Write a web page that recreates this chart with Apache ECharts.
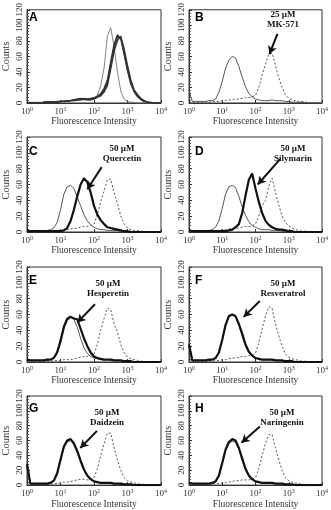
<!DOCTYPE html>
<html><head><meta charset="utf-8">
<script src="https://cdn.jsdelivr.net/npm/echarts@6/dist/echarts.min.js"></script>
<style>html,body{margin:0;padding:0;background:#fff}#c{width:331px;height:510px}</style>
</head><body><div id="c"></div>
<script>
// Fluorescence channels (log-spaced, 10^0 .. 10^4)
const xs = [1,1.26,1.58,2,2.51,3.16,3.98,5.01,6.31,7.94,10,12.6,15.8,20,25.1,31.6,39.8,50.1,63.1,79.4,100,126,158,200,251,316,398,501,631,794,1000,1259,1585,1995,2512,3162,3981,5012,6310,7943,10000];
const panelLetters = ['A','B','C','D','E','F','G','H'];
const xTickLabels = ['10^0','10^1','10^2','10^3','10^4'];
const yTicks = [0,20,40,60,80,100,120];

// Panel A
const ctrlA = [1,1,1,1,1,1,1,1,1,1,1,1,2,3,3,3,4,4,4,4,5,10,22,45,86,97,72,40,15,5,2,1,1,0,0,0,0,0,0,0,0];
const thickA1 = [0,0,0,0,0,1,1,1,1,1,2,2,2,3,4,4,5,5,5,5,6,8,10,16,25,48,70,84,85,66,45,27,15,10,5,3,1,0,0,0,0];
const thickA2 = [0,0,0,0,0,1,1,1,1,2,2,2,3,3,4,5,5,6,5,5,6,9,12,19,30,54,76,88,82,62,41,24,14,8,4,2,1,0,0,0,0];
const thickA3 = [0,0,0,0,0,1,1,1,1,1,2,2,2,3,3,4,4,5,4,4,5,7,9,14,22,43,66,80,86,70,49,30,17,11,6,3,1,1,0,0,0];
const thickA4 = [0,0,0,0,0,0,1,1,1,1,2,2,3,3,4,5,6,5,5,6,7,8,11,17,27,51,73,86,84,64,43,26,15,9,5,2,1,0,0,0,0];
// Panel B
const ctrlB = [16,2,2,2,2,2,3,3,5,14,28,45,55,60,58,47,33,21,12,8,5,4,3,3,3,4,3,3,3,2,2,1,1,1,1,0,0,0,0,0,0];
const mkB = [1,1,1,1,1,1,1,2,2,2,3,3,4,4,5,5,6,7,7,8,10,20,36,50,63,64,48,32,20,11,6,4,3,2,2,1,1,0,0,0,0];
// Panel C
const ctrlC = [2,1,1,1,1,1,2,3,5,12,28,48,57,59,55,44,33,22,14,9,6,4,3,3,2,2,2,2,1,1,1,1,0,0,0,0,0,0,0,0,0];
const thickC = [2,1,1,1,1,1,1,1,1,1,1,2,5,14,28,45,60,68,63,50,33,22,15,10,6,5,4,3,2,1,1,0,0,0,0,0,0,0,0,0,0];
const mkC = [1,1,1,1,1,1,1,1,1,2,2,3,3,4,4,5,6,7,7,8,10,22,38,52,66,67,50,36,20,10,5,3,2,2,1,1,0,0,0,0,0];
// Panel D
const ctrlD = [2,1,1,1,1,1,2,3,6,14,30,48,57,59,56,45,32,21,13,8,6,4,3,3,3,2,2,2,1,1,1,1,0,0,0,0,0,0,0,0,0];
const thickD = [2,1,1,1,1,1,1,1,1,1,1,1,2,3,6,10,24,46,66,74,55,38,24,14,9,6,4,3,3,2,1,1,0,0,0,0,0,0,0,0,0];
const mkD = [1,1,1,1,1,1,1,1,2,2,3,3,4,4,5,5,6,7,7,8,10,20,33,40,58,68,50,34,20,12,8,5,3,2,1,1,0,0,0,0,0];
// Panel E
const ctrlE = [3,2,2,2,2,2,2,3,5,14,30,47,56,58,54,44,30,18,11,7,5,4,3,3,3,3,2,2,2,1,1,1,0,0,0,0,0,0,0,0,0];
const thickE = [3,2,2,2,2,2,3,3,5,12,26,44,54,57,55,54,42,30,20,12,7,5,4,3,3,3,2,2,2,1,1,1,0,0,0,0,0,0,0,0,0];
const mkE = [1,1,1,1,1,1,1,1,2,2,2,3,3,3,4,5,6,7,7,9,10,22,40,55,68,66,48,38,22,12,6,4,3,2,1,1,0,0,0,0,0];
// Panel F
const ctrlF = [25,2,2,2,2,2,2,3,5,12,28,46,57,59,57,46,32,20,12,8,5,4,3,3,3,3,2,2,2,1,1,1,0,0,0,0,0,0,0,0,0];
const thickF = [22,2,2,2,2,2,3,3,5,12,28,47,58,60,58,48,36,22,13,8,5,4,3,3,3,3,2,2,2,1,1,1,0,0,0,0,0,0,0,0,0];
const mkF = [1,1,1,1,1,1,1,1,2,2,3,3,4,5,5,6,7,7,8,9,11,24,42,58,70,68,48,33,20,10,6,4,3,2,1,1,0,0,0,0,0];
// Panel G
const ctrlG = [30,2,2,2,2,2,2,3,5,14,32,50,58,60,55,44,31,20,12,8,5,4,3,3,3,3,2,2,2,1,1,1,0,0,0,0,0,0,0,0,0];
const thickG = [28,2,2,2,2,2,2,3,6,16,34,52,60,62,56,46,33,21,13,8,5,4,3,3,3,3,2,2,2,1,1,1,0,0,0,0,0,0,0,0,0];
const mkG = [1,1,1,1,1,1,1,1,2,2,3,4,4,5,6,7,8,8,7,8,10,22,40,56,70,70,50,34,20,10,6,4,3,2,1,1,0,0,0,0,0];
// Panel H
const ctrlH = [3,2,2,2,2,2,2,3,5,12,28,46,56,59,58,48,33,20,12,7,5,4,3,3,3,3,2,2,2,1,1,1,0,0,0,0,0,0,0,0,0];
const thickH = [3,2,2,2,2,2,2,3,5,13,30,48,58,62,60,50,36,22,13,8,5,4,3,3,3,3,2,2,2,1,1,1,0,0,0,0,0,0,0,0,0];
const mkH = [1,1,1,1,1,1,1,1,2,2,3,3,4,5,6,6,7,7,7,8,10,22,40,56,68,68,50,34,20,10,6,4,3,2,1,1,0,0,0,0,0];

// Annotations: text and arrow (data coords: [fluorescence, counts])
const annTexts = ['', '25 µM\nMK-571', '50 µM\nQuercetin', '50 µM\nSilymarin', '50 µM\nHesperetin', '50 µM\nResveratrol', '50 µM\nDaidzein', '50 µM\nNaringenin'];
const annTextAt = [null,[283,20],[122,154],[293,154],[108,289],[283,289],[107,418],[282,418]];
const arrows = [null, [[457,89],[263,63]], [[170,82],[63,54]], [[550,92],[117,60]], [[107,73],[32,50]], [[135,77],[44,57]], [[123,73],[39,50]], [[135,79],[38,57]]];

const panelSeries = [
  {ctrl: ctrlA, thick: [thickA1, thickA2, thickA3, thickA4]},
  {ctrl: ctrlB, mk: mkB},
  {ctrl: ctrlC, mk: mkC, thick: [thickC]},
  {ctrl: ctrlD, mk: mkD, thick: [thickD]},
  {ctrl: ctrlE, mk: mkE, thick: [thickE]},
  {ctrl: ctrlF, mk: mkF, thick: [thickF]},
  {ctrl: ctrlG, mk: mkG, thick: [thickG]},
  {ctrl: ctrlH, mk: mkH, thick: [thickH]}
];

const colLeft = [23, 189], colW = [138, 137];
const rowTop = [8, 137, 267, 396], rowH = 95;
const letterTop = [12, 146, 275, 403];
const serif = 'Liberation Serif';

const grids = [], xAxes = [], yAxes = [], series = [], graphics = [];
const pair = ys => xs.map((x, i) => [x, ys[i]]);
panelLetters.forEach((L, i) => {
  const c = i % 2, r = Math.floor(i / 2);
  grids.push({left: colLeft[c], top: rowTop[r], width: colW[c], height: rowH, show: true, borderColor: '#333', borderWidth: 1});
  xAxes.push({
    type: 'log', logBase: 10, min: 1, max: 10000, gridIndex: i,
    axisLine: {lineStyle: {color: '#333', width: 1}},
    axisTick: {inside: true, length: 3, lineStyle: {color: '#333'}},
    splitLine: {show: false},
    axisLabel: {margin: 3, color: '#333',
      formatter: v => { const t = xTickLabels[Math.round(Math.log10(v))].split('^'); return '{b|' + t[0] + '}{s|' + t[1] + '}'; },
      rich: {b: {fontFamily: serif, fontSize: 9, color: '#333'}, s: {fontFamily: serif, fontSize: 6, color: '#333', padding: [0,0,5,0]}}},
    name: 'Fluorescence Intensity', nameLocation: 'middle', nameGap: 12,
    nameTextStyle: {fontFamily: serif, fontSize: 9.5, color: '#333'}
  });
  yAxes.push({
    type: 'value', min: yTicks[0], max: yTicks[yTicks.length - 1], interval: 20, gridIndex: i,
    axisLine: {show: true, lineStyle: {color: '#333', width: 1}},
    axisTick: {inside: true, length: 3, lineStyle: {color: '#333'}},
    minorTick: {show: true, splitNumber: 5, length: 2, lineStyle: {color: '#555'}},
    splitLine: {show: false},
    axisLabel: {rotate: 90, margin: 3, fontFamily: serif, fontSize: 9, color: '#333'},
    name: 'Counts', nameLocation: 'middle', nameGap: 15, nameRotate: 90,
    nameTextStyle: {fontFamily: serif, fontSize: 10.5, color: '#333'}
  });
  const p = panelSeries[i];
  const isA = i === 0;
  series.push({type: 'line', xAxisIndex: i, yAxisIndex: i, data: pair(p.ctrl), showSymbol: false, silent: true,
    lineStyle: {color: isA ? '#777' : '#444', width: 0.9}, z: 3});
  if (p.mk) {
    series.push({type: 'line', xAxisIndex: i, yAxisIndex: i, data: pair(p.mk), showSymbol: false, silent: true,
      lineStyle: {color: '#555', width: 1, type: [2, 2]}, z: 3});
  }
  if (p.thick) p.thick.forEach(t => series.push({type: 'line', xAxisIndex: i, yAxisIndex: i, data: pair(t), showSymbol: false, silent: true,
    lineStyle: {color: isA ? '#333' : '#111', width: isA ? 1.2 : 2.2}, z: 4}));
  if (arrows[i]) {
    series.push({type: 'line', xAxisIndex: i, yAxisIndex: i, data: [], silent: true,
      markLine: {silent: true, symbol: ['none', 'arrow'], symbolSize: [7, 8], label: {show: false},
        lineStyle: {color: '#111', width: 2, type: 'solid'},
        data: [[{coord: arrows[i][0]}, {coord: arrows[i][1]}]]}});
    graphics.push({type: 'text', x: annTextAt[i][0], y: annTextAt[i][1], z: 10,
      style: {text: annTexts[i], fill: '#111', font: 'bold 9px "Liberation Serif"', textAlign: 'center', textVerticalAlign: 'middle', lineHeight: 10}});
  }
  graphics.push({type: 'text', x: colLeft[c] + 6, y: letterTop[r], z: 10,
    style: {text: L, fill: '#000', font: 'bold 12px "Liberation Sans"'}});
});

const chart = echarts.init(document.getElementById('c'), null, {renderer: 'canvas'});
chart.setOption({animation: false, grid: grids, xAxis: xAxes, yAxis: yAxes, series: series, graphic: graphics});
</script></body></html>
